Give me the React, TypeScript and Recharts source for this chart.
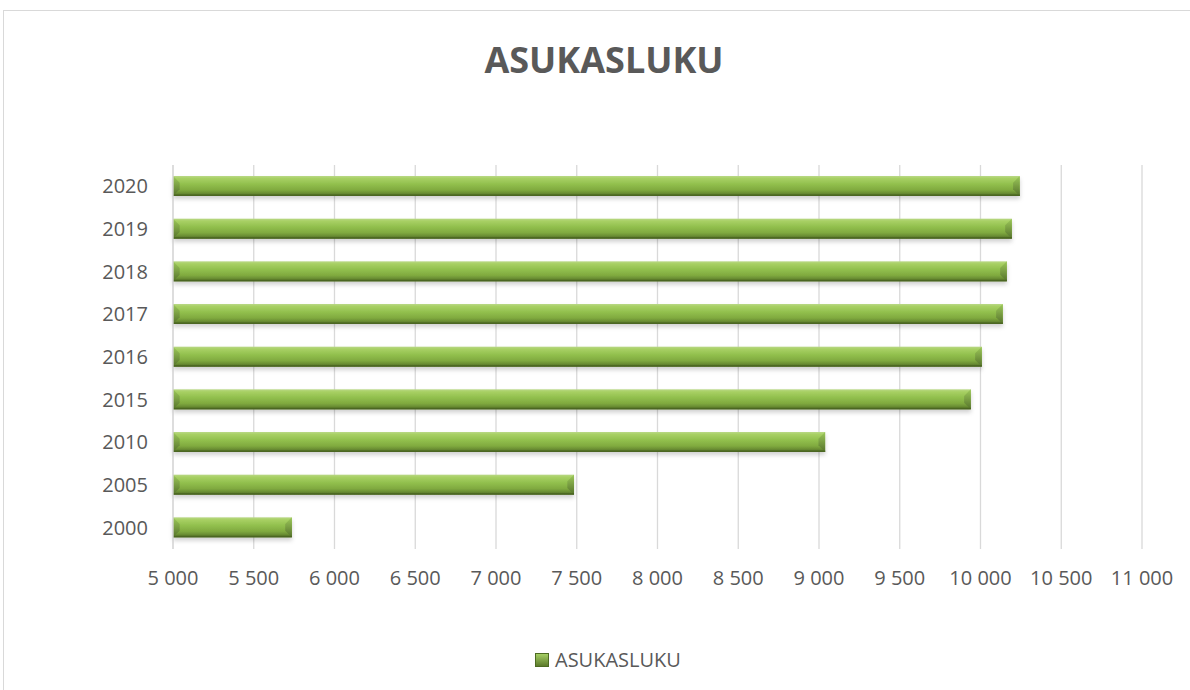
import { BarChart, Bar, XAxis, YAxis, CartesianGrid } from "recharts";

const years = ["2000", "2005", "2010", "2015", "2016", "2017", "2018", "2019", "2020"];
const population = [5736, 7483, 9038, 9940, 10008, 10138, 10163, 10194, 10243];
const xTicks = [5000, 5500, 6000, 6500, 7000, 7500, 8000, 8500, 9000, 9500, 10000, 10500, 11000];

const data = years.map((y, i) => ({ year: y, value: population[i] }));

const TEXT = "#595959";
const FONT = "'Open Sans', 'Noto Sans', sans-serif";

const fmt = (v: number) => String(v).replace(/\B(?=(\d{3})+(?!\d))/g, " ");

// bevelled bar like the Excel preset
function BevelBar(props: any) {
  const { x, y, width, height } = props;
  if (!width || width <= 0) return null;
  const b = Math.min(7, height / 3, width / 2);
  return (
    <g filter="url(#barShadow)">
      <rect x={x} y={y} width={width} height={height} fill="url(#barGrad)" />
      <polygon
        points={`${x},${y} ${x + b},${y + b} ${x + b},${y + height - b} ${x},${y + height}`}
        fill="url(#endGrad)"
      />
      <polygon
        points={`${x + width},${y} ${x + width - b},${y + b} ${x + width - b},${y + height - b} ${x + width},${y + height}`}
        fill="url(#endGrad)"
      />
      <rect x={x} y={y + height - 1.5} width={width} height={1.5} fill="#4b6621" />
    </g>
  );
}

export default function App() {
  return (
    <div style={{ position: "absolute", left: 0, top: 0, width: 1190, height: 690, background: "#fff", overflow: "hidden", fontFamily: FONT }}>
      <div style={{ position: "absolute", left: 3, top: 10, width: 1200, height: 700, border: "1px solid #d9d9d9", boxSizing: "border-box" }} />
      <div style={{ position: "absolute", left: 0, top: 35, width: 1208, textAlign: "center", fontSize: 36, fontWeight: 700, color: TEXT, fontFamily: FONT }}>
        ASUKASLUKU
      </div>
      <div style={{ position: "absolute", left: 0, top: 0 }}>
        <BarChart
          width={1190}
          height={690}
          data={data}
          layout="vertical"
          margin={{ top: 165, right: 48, bottom: 111, left: 73 }}
          barSize={20}
        >
          <defs>
            <linearGradient id="barGrad" x1="0" y1="0" x2="0" y2="1">
              <stop offset="0%" stopColor="#b9d886" />
              <stop offset="12%" stopColor="#a8d064" />
              <stop offset="40%" stopColor="#92c04e" />
              <stop offset="70%" stopColor="#80aa3f" />
              <stop offset="85%" stopColor="#6b8f34" />
              <stop offset="100%" stopColor="#4f6a24" />
            </linearGradient>
            <linearGradient id="endGrad" x1="0" y1="0" x2="0" y2="1">
              <stop offset="0%" stopColor="#9cc85a" />
              <stop offset="100%" stopColor="#55722a" />
            </linearGradient>
            <filter id="barShadow" x="-5%" y="-30%" width="110%" height="180%">
              <feDropShadow dx="0" dy="3" stdDeviation="2" floodColor="#000" floodOpacity="0.18" />
            </filter>
          </defs>
          <CartesianGrid horizontal={false} stroke="#d9d9d9" strokeWidth={1.3} />
          <XAxis
            type="number"
            domain={[5000, 11000]}
            ticks={xTicks}
            tickFormatter={fmt}
            axisLine={false}
            tickLine={false}
            tickSize={0}
            tickMargin={22}
            height={30}
            interval={0}
            tick={{ fontSize: 20, fill: TEXT, fontFamily: FONT }}
          />
          <YAxis
            type="category"
            dataKey="year"
            reversed
            width={100}
            axisLine={{ stroke: "#d9d9d9", strokeWidth: 1.3 }}
            tickLine={false}
            tickSize={0}
            tickMargin={25}
            interval={0}
            tick={{ fontSize: 20, fill: TEXT, fontFamily: FONT }}
          />
          <Bar dataKey="value" name="ASUKASLUKU" shape={<BevelBar />} isAnimationActive={false} />
        </BarChart>
      </div>
      <div style={{ position: "absolute", left: 535, top: 646, display: "flex", alignItems: "center", color: TEXT, fontSize: 20, fontFamily: FONT }}>
        <span style={{ display: "inline-block", width: 14, height: 14, marginRight: 6, background: "linear-gradient(#a5cf64, #5c7a2b)", border: "1px solid #4d6b22", boxSizing: "border-box" }} />
        ASUKASLUKU
      </div>
    </div>
  );
}
